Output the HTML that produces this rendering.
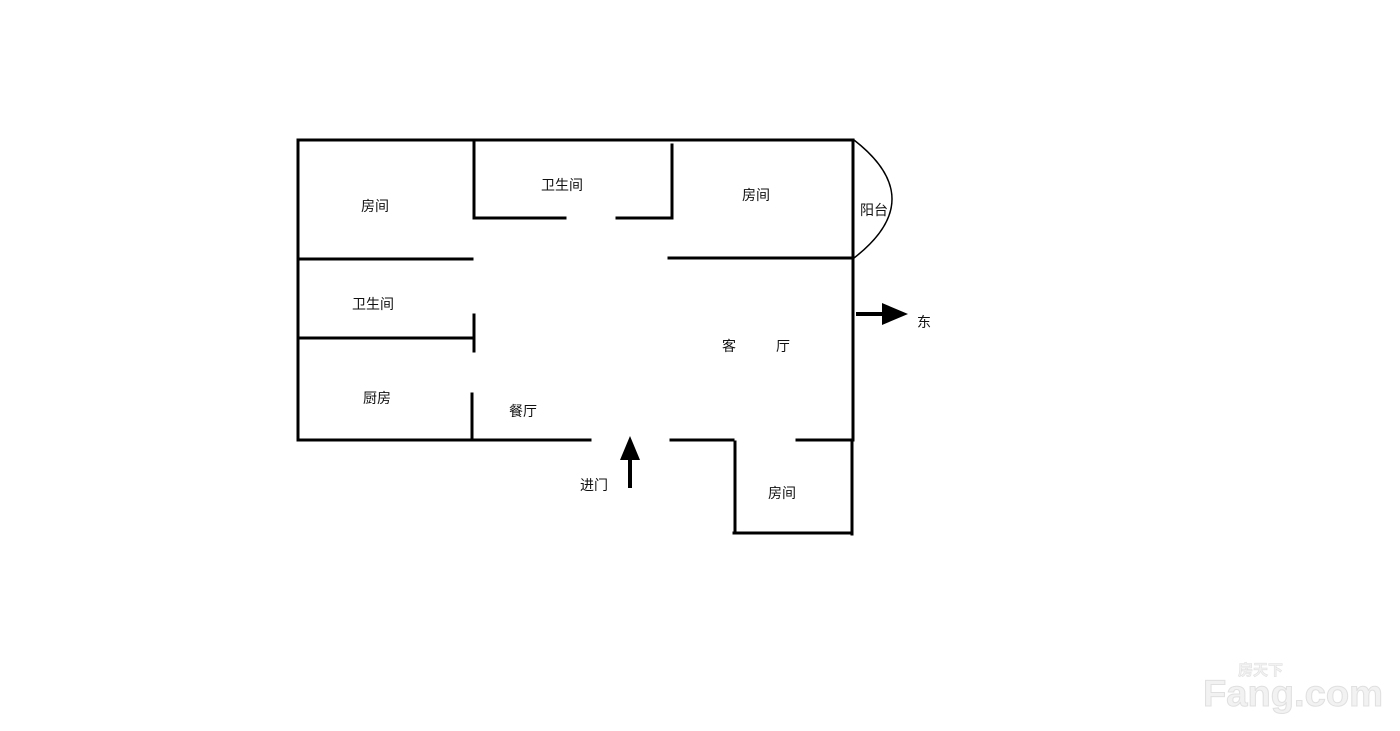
<!DOCTYPE html>
<html><head><meta charset="utf-8"><style>
html,body{margin:0;padding:0;background:#fff;width:1400px;height:731px;overflow:hidden}
svg{display:block}
text{font-family:"Liberation Sans","Noto Sans CJK SC",sans-serif;font-size:14px;fill:#111}
</style></head><body>
<svg width="1400" height="731" viewBox="0 0 1400 731">
<g stroke="#000" stroke-width="3" stroke-linecap="square" fill="none">
<line x1="298" y1="140" x2="853" y2="140"/>
<line x1="298" y1="140" x2="298" y2="440"/>
<line x1="298" y1="440" x2="590" y2="440"/>
<line x1="671" y1="440" x2="733" y2="440"/>
<line x1="797" y1="440" x2="853" y2="440"/>
<line x1="853" y1="140" x2="853" y2="438"/>
<line x1="474" y1="140" x2="474" y2="218"/>
<line x1="474" y1="218" x2="565" y2="218"/>
<line x1="617" y1="218" x2="672" y2="218"/>
<line x1="672" y1="145" x2="672" y2="218"/>
<line x1="298" y1="259" x2="472" y2="259"/>
<line x1="669" y1="258" x2="852" y2="258"/>
<line x1="298" y1="338" x2="474" y2="338"/>
<line x1="474" y1="315" x2="474" y2="351"/>
<line x1="472" y1="394" x2="472" y2="437"/>
<line x1="735" y1="442" x2="735" y2="532"/>
<line x1="734" y1="533" x2="851" y2="533"/>
<line x1="852" y1="440" x2="852" y2="534"/>
</g>
<path d="M854 140 Q930 199 854 258" stroke="#000" stroke-width="1.5" fill="none"/>
<line x1="856" y1="314" x2="885" y2="314" stroke="#000" stroke-width="4"/>
<polygon points="882,303 908,314 882,325" fill="#000"/>
<line x1="630" y1="488" x2="630" y2="455" stroke="#000" stroke-width="4"/>
<polygon points="620,460 630,436 640,460" fill="#000"/>
<text x="361" y="211">房间</text>
<text x="541" y="190">卫生间</text>
<text x="742" y="200">房间</text>
<text x="860" y="215">阳台</text>
<text x="352" y="309">卫生间</text>
<text x="722" y="351">客</text>
<text x="776" y="351">厅</text>
<text x="363" y="403">厨房</text>
<text x="509" y="416">餐厅</text>
<text x="580" y="490">进门</text>
<text x="768" y="498">房间</text>
<text x="917" y="327">东</text>
<text x="1203" y="706" style="font-size:37px;font-weight:bold;fill:#f2f2f2;stroke:#e0e0e0;stroke-width:1" textLength="180" lengthAdjust="spacingAndGlyphs">Fang.com</text>
<text x="1238" y="675" style="font-size:15px;font-weight:bold;fill:#f2f2f2;stroke:#e0e0e0;stroke-width:0.6">房天下</text>
</svg>
</body></html>
